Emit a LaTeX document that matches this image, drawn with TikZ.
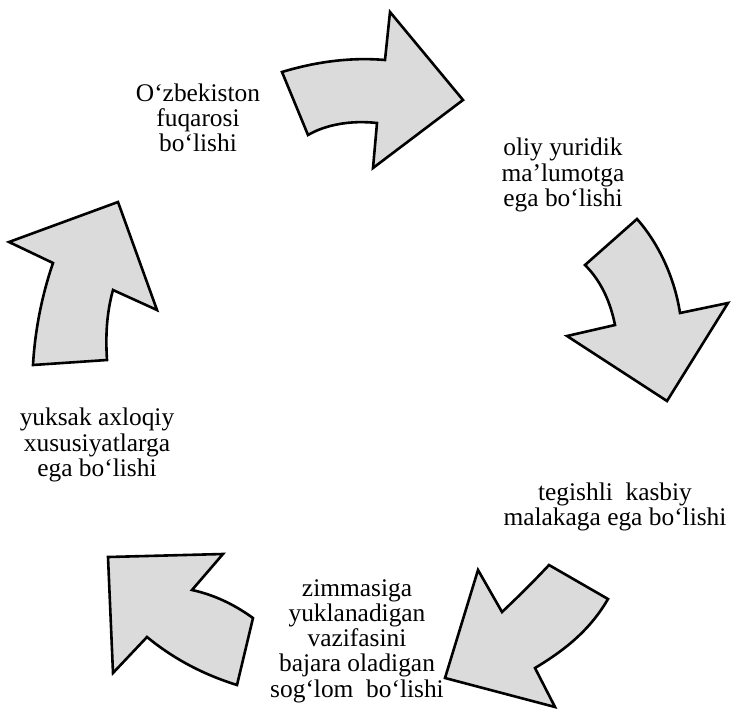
\documentclass[tikz,border=0pt]{standalone}
\usepackage{fontspec}
\setmainfont{Liberation Serif}
\begin{document}
\begin{tikzpicture}[x=0.5pt,y=-0.5pt,
  arrowshape/.style={draw=black,fill=black!14,line width=1.3pt,line join=miter},
  lbl/.style={align=center,font=\fontsize{12.7}{12.6}\selectfont,inner sep=0pt}]
\useasboundingbox (0,0) rectangle (732,717);
% top arrow
\draw[arrowshape] (282,72) .. controls (315,62) and (350,57) .. (385,60) -- (390,12) -- (463,100) -- (373,168) -- (377,123) .. controls (350,120) and (325,125) .. (308,135) -- cycle;
% right arrow
\draw[arrowshape] (585,265) -- (637,219) .. controls (660,245) and (675,280) .. (680,313) -- (728,303) -- (667,401) -- (567,336) -- (615,325) .. controls (610,300) and (600,280) .. (585,265) -- cycle;
% bottom-right arrow
\draw[arrowshape] (478,570) -- (502,612) .. controls (520,595) and (535,580) .. (549,565) -- (608,599) .. controls (590,630) and (565,650) .. (535,668) -- (555,707) -- (445,678) -- cycle;
% bottom-left arrow
\draw[arrowshape] (108,557) -- (223,554) -- (192,590) .. controls (215,595) and (235,605) .. (253,618) -- (237,685) .. controls (205,675) and (175,660) .. (147,637) -- (113,673) -- cycle;
% left arrow
\draw[arrowshape] (33,365) -- (107,360) .. controls (105,330) and (108,308) .. (113,290) -- (157,310) -- (118,202) -- (9,242) -- (53,263) .. controls (42,295) and (35,330) .. (33,365) -- cycle;
% labels
\node[lbl] (t1) at (198,118) {O‘zbekiston\\fuqarosi\\bo‘lishi};
\node[lbl] (t2) at (563,175) {oliy yuridik\\ma’lumotga\\ega bo‘lishi};
\node[lbl] (t3) at (615,507) {tegishli\ \ kasbiy\\malakaga ega bo‘lishi};
\node[lbl] (t4) at (357,641) {zimmasiga\\yuklanadigan\\vazifasini\\bajara oladigan\\sog‘lom\ \ bo‘lishi};
\node[lbl] (t5) at (97,445) {yuksak axloqiy\\xususiyatlarga\\ega bo‘lishi};
\end{tikzpicture}
\end{document}
